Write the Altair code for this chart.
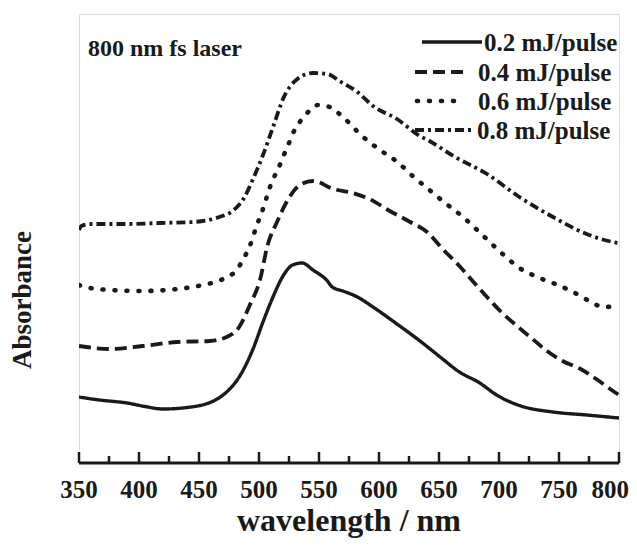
import altair as alt
import pandas as pd

# wavelength (nm) and absorbance (arbitrary units, offset curves)
wl_02 = [350, 367, 390, 405, 420, 440, 462, 473, 484, 495, 503, 512, 520, 528, 536, 545, 557, 561, 570, 582, 595, 615, 632, 651, 667, 684, 698, 717, 745, 773, 800]
ab_02 = [0.66, 0.63, 0.60, 0.565, 0.54, 0.555, 0.62, 0.71, 0.87, 1.14, 1.40, 1.67, 1.87, 1.98, 2.00, 1.93, 1.82, 1.76, 1.72, 1.66, 1.56, 1.39, 1.24, 1.06, 0.91, 0.80, 0.68, 0.575, 0.51, 0.48, 0.45]

wl_04 = [350, 376, 403, 432, 459, 473, 484, 492, 501, 507, 515, 523, 534, 545, 562, 578, 592, 609, 626, 640, 653, 667, 678, 690, 701, 715, 728, 740, 753, 768, 781, 795, 800]
ab_04 = [1.17, 1.14, 1.17, 1.21, 1.22, 1.26, 1.37, 1.57, 1.84, 2.17, 2.41, 2.61, 2.78, 2.82, 2.74, 2.70, 2.64, 2.52, 2.41, 2.31, 2.14, 1.97, 1.82, 1.66, 1.52, 1.37, 1.24, 1.12, 1.02, 0.94, 0.84, 0.72, 0.68]

wl_06 = [350, 355, 376, 403, 432, 453, 470, 482, 487, 492, 498, 503, 511, 516, 520, 524, 528, 534, 541, 549, 559, 567, 576, 584, 592, 602, 612, 620, 628, 638, 653, 670, 687, 703, 717, 734, 751, 768, 778, 787, 800]
ab_06 = [1.78, 1.76, 1.73, 1.72, 1.74, 1.78, 1.84, 1.94, 2.04, 2.16, 2.37, 2.53, 2.82, 2.94, 3.06, 3.17, 3.29, 3.41, 3.51, 3.58, 3.56, 3.49, 3.39, 3.29, 3.21, 3.12, 3.04, 2.96, 2.87, 2.77, 2.62, 2.46, 2.27, 2.09, 1.95, 1.85, 1.77, 1.67, 1.60, 1.56, 1.57]

wl_08 = [350, 352, 360, 390, 417, 445, 467, 478, 487, 495, 503, 512, 520, 532, 545, 557, 567, 582, 595, 615, 634, 642, 662, 690, 717, 745, 773, 795, 800]
ab_08 = [2.33, 2.37, 2.39, 2.39, 2.40, 2.41, 2.46, 2.52, 2.64, 2.84, 3.07, 3.37, 3.64, 3.84, 3.90, 3.89, 3.82, 3.71, 3.57, 3.44, 3.27, 3.22, 3.07, 2.89, 2.66, 2.46, 2.29, 2.21, 2.20]

series_names = ["0.2 mJ/pulse", "0.4 mJ/pulse", "0.6 mJ/pulse", "0.8 mJ/pulse"]

major_ticks = [350, 400, 450, 500, 550, 600, 650, 700, 750, 800]
minor_ticks = [375, 425, 475, 525, 575, 625, 675, 725, 775]

W, H = 540, 449
SERIF = "Liberation Serif, Times New Roman, serif"
INK = "#1a1a1a"

xs = alt.Scale(domain=[350, 800], nice=False)
ys = alt.Scale(domain=[0, 4.49], nice=False)

dashes = [[1, 0], [12, 6], [1, 11], [9, 4, 3, 4]]
widths = [3.4, 3.8, 4.6, 3.8]
caps = ["butt", "butt", "round", "butt"]
data_sets = [(wl_02, ab_02), (wl_04, ab_04), (wl_06, ab_06), (wl_08, ab_08)]

layers = []
for i, (wl, ab) in enumerate(data_sets):
    df = pd.DataFrame({"wl": wl, "ab": ab})
    layers.append(
        alt.Chart(df).mark_line(color=INK, strokeWidth=widths[i], strokeDash=dashes[i],
                                strokeCap=caps[i], clip=True, interpolate="monotone")
        .encode(
            x=alt.X("wl:Q", scale=xs, axis=None),
            y=alt.Y("ab:Q", scale=ys, axis=None),
        )
    )

# inward ticks on the bottom axis
maj_df = pd.DataFrame({"t": major_ticks})
min_df = pd.DataFrame({"t": minor_ticks})
layers.append(alt.Chart(maj_df).mark_rule(color=INK, strokeWidth=2.5)
              .encode(x=alt.X("t:Q", scale=xs), y=alt.value(H), y2=alt.value(H - 11)))
layers.append(alt.Chart(min_df).mark_rule(color=INK, strokeWidth=2.5)
              .encode(x=alt.X("t:Q", scale=xs), y=alt.value(H), y2=alt.value(H - 7)))
# thicker bottom axis line
layers.append(alt.Chart(maj_df.head(1)).mark_rule(color=INK, strokeWidth=3)
              .encode(x=alt.value(0), x2=alt.value(W), y=alt.value(H)))

# tick labels (last one kept inside the page)
lab_df = pd.DataFrame({"t": major_ticks[:-1]})
last_df = pd.DataFrame({"t": major_ticks[-1:]})
layers.append(alt.Chart(lab_df).mark_text(font=SERIF, fontSize=25, fontWeight="bold", color=INK,
                                          align="center", baseline="middle")
              .encode(x=alt.X("t:Q", scale=xs), y=alt.value(H + 27), text=alt.Text("t:Q", format="d")))
layers.append(alt.Chart(last_df).mark_text(font=SERIF, fontSize=25, fontWeight="bold", color=INK,
                                           align="right", baseline="middle", dx=10)
              .encode(x=alt.X("t:Q", scale=xs), y=alt.value(H + 27), text=alt.Text("t:Q", format="d")))

# legend
leg_y = [28, 58, 87, 116]
leg_x1 = [343, 336, 338, 336]
leg_x2 = [403, 384, 381, 396]
leg_tx = [405, 399, 399, 398]
for i in range(4):
    ldf = pd.DataFrame({"name": [series_names[i]]})
    layers.append(alt.Chart(ldf).mark_rule(color=INK, strokeWidth=widths[i], strokeDash=dashes[i],
                                           strokeCap=caps[i])
                  .encode(x=alt.value(leg_x1[i]), x2=alt.value(leg_x2[i]), y=alt.value(leg_y[i])))
    layers.append(alt.Chart(ldf).mark_text(font=SERIF, fontSize=25, fontWeight="bold", color=INK,
                                           align="left", baseline="middle")
                  .encode(text="name:N", x=alt.value(leg_tx[i]), y=alt.value(leg_y[i] + 1)))

# annotation, axis titles
ann = pd.DataFrame({"t": ["800 nm fs laser"], "y": ["Absorbance"], "x": ["wavelength / nm"]})
layers.append(alt.Chart(ann).mark_text(font=SERIF, fontSize=24, fontWeight="bold", color=INK,
                                       align="left", baseline="middle")
              .encode(text="t:N", x=alt.value(9), y=alt.value(35)))
layers.append(alt.Chart(ann).mark_text(font=SERIF, fontSize=27, fontWeight="bold", color=INK,
                                       align="center", baseline="middle", angle=270)
              .encode(text="y:N", x=alt.value(-56), y=alt.value(286)))
layers.append(alt.Chart(ann).mark_text(font=SERIF, fontSize=32, fontWeight="bold", color=INK,
                                       align="center", baseline="middle")
              .encode(text="x:N", x=alt.value(W / 2), y=alt.value(H + 58)))

chart = (
    alt.layer(*layers)
    .properties(width=W, height=H, autosize=alt.AutoSizeParams(type="none"),
                padding={"left": 71, "top": 6, "right": 10, "bottom": 75})
    .configure_view(stroke=INK, strokeWidth=2.2)
    .configure(background="white")
)

chart.save("out.html", embed_options={"renderer": "svg", "actions": False})
